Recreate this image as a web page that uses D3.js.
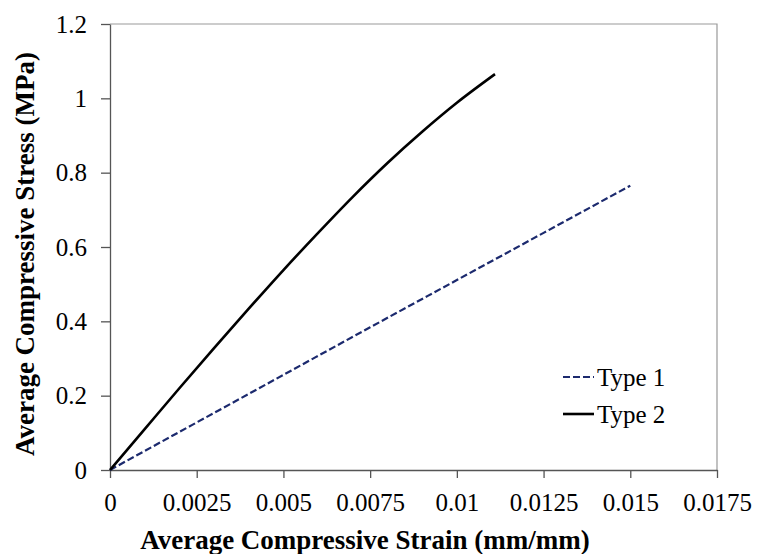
<!DOCTYPE html>
<html>
<head>
<meta charset="utf-8">
<script src="https://cdn.jsdelivr.net/npm/d3@7"></script>
<style>
	body { margin: 0; background: #fff; }
	svg { display: block; }
	.tick text { font-family: "Liberation Serif", "Times New Roman", serif; font-size: 25px; fill: #000; }
	.axis path, .axis line { stroke: #555; stroke-width: 1.3px; }
	.axis_title { font-family: "Liberation Serif", "Times New Roman", serif; font-size: 27px; font-weight: bold; fill: #000; }
	.legend text { font-family: "Liberation Serif", "Times New Roman", serif; font-size: 25px; fill: #000; }
</style>
</head>
<body>
<svg id="chart" width="761" height="554"></svg>
<script>
// strain (mm/mm) and stress (MPa)
var type1_strain = [0, 0.0025, 0.005, 0.0075, 0.01, 0.0125, 0.015];
var type1_stress = [0, 0.128, 0.256, 0.384, 0.511, 0.638, 0.765];

var type2_strain = [0, 0.001, 0.002, 0.003, 0.004, 0.005, 0.006, 0.007, 0.008, 0.009, 0.010, 0.0111];
var type2_stress = [0, 0.110, 0.220, 0.328, 0.434, 0.538, 0.638, 0.735, 0.826, 0.910, 0.988, 1.065];

var x_ticks = [0, 0.0025, 0.005, 0.0075, 0.01, 0.0125, 0.015, 0.0175];
var x_tick_labels = ["0", "0.0025", "0.005", "0.0075", "0.01", "0.0125", "0.015", "0.0175"];
var y_ticks = [0, 0.2, 0.4, 0.6, 0.8, 1, 1.2];
var y_tick_labels = ["0", "0.2", "0.4", "0.6", "0.8", "1", "1.2"];

var series_names = ["Type 1", "Type 2"];

var svg = d3.select("#chart"),
	plot_left = 110, plot_right = 717, plot_top = 24, plot_bottom = 470;

var x = d3.scaleLinear().domain([0, 0.0175]).range([plot_left, plot_right]);
var y = d3.scaleLinear().domain([0, 1.2]).range([plot_bottom, plot_top]);

// plot border (top and right)
svg.append("path")
	.attr("d", "M" + plot_left + "," + plot_top + "H" + plot_right + "V" + plot_bottom)
	.attr("fill", "none")
	.attr("stroke", "#999")
	.attr("stroke-width", 1.2);

var xAxis = d3.axisBottom(x)
	.tickValues(x_ticks)
	.tickSize(8)
	.tickSizeOuter(0)
	.tickPadding(15)
	.tickFormat(function(d, i){ return x_tick_labels[i]; });
svg.append("g")
	.attr("class", "axis")
	.attr("transform", "translate(0," + plot_bottom + ")")
	.call(xAxis);

var yAxis = d3.axisLeft(y)
	.tickValues(y_ticks)
	.tickSize(9)
	.tickSizeOuter(0)
	.tickPadding(14)
	.tickFormat(function(d, i){ return y_tick_labels[i]; });
svg.append("g")
	.attr("class", "axis")
	.attr("transform", "translate(" + plot_left + ",0)")
	.call(yAxis);

var line = d3.line()
	.curve(d3.curveMonotoneX)
	.x(function(d){ return x(d[0]); })
	.y(function(d){ return y(d[1]); });

var styles = [
	{ color: "#1c2a6e", dash: "7,3", width: 2.2 },
	{ color: "#000", dash: null, width: 2.6 }
];

var series = [
	d3.zip(type1_strain, type1_stress),
	d3.zip(type2_strain, type2_stress)
];

series.forEach(function(s, i){
	svg.append("path")
		.datum(s)
		.attr("fill", "none")
		.attr("stroke", styles[i].color)
		.attr("stroke-width", styles[i].width)
		.attr("stroke-dasharray", styles[i].dash)
		.attr("d", line);
});

// legend
var legend = svg.append("g").attr("class", "legend");
series_names.forEach(function(name, i){
	var ly = 377 + i * 37;
	legend.append("line")
		.attr("x1", 563).attr("x2", 594)
		.attr("y1", ly).attr("y2", ly)
		.attr("stroke", styles[i].color)
		.attr("stroke-width", styles[i].width)
		.attr("stroke-dasharray", styles[i].dash);
	legend.append("text")
		.attr("x", 597)
		.attr("y", ly + 9)
		.text(name);
});

// axis titles
svg.append("text")
	.attr("class", "axis_title")
	.attr("x", 365)
	.attr("y", 549)
	.attr("text-anchor", "middle")
	.text("Average Compressive Strain (mm/mm)");

svg.append("text")
	.attr("class", "axis_title")
	.attr("transform", "translate(34,254) rotate(-90)")
	.attr("text-anchor", "middle")
	.text("Average Compressive Stress (MPa)");
</script>
</body>
</html>
